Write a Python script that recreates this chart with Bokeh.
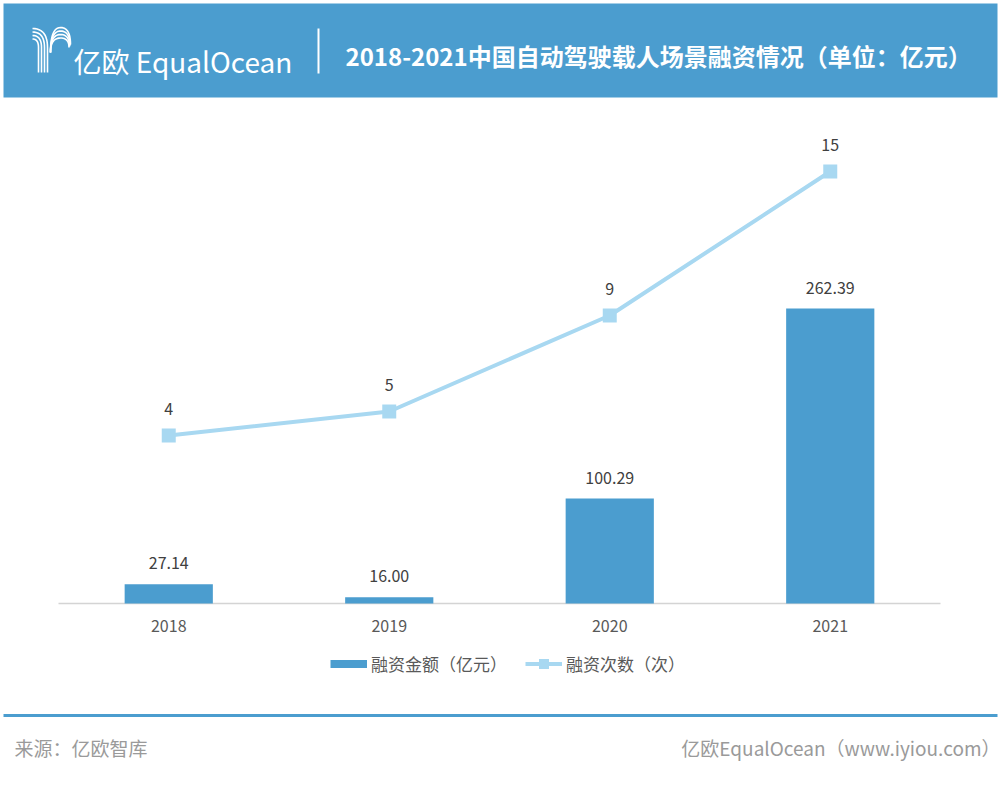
from bokeh.plotting import figure
from bokeh.models import Range1d, ColumnDataSource, Legend, LegendItem
from bokeh.embed import file_html
from bokeh.resources import INLINE

# ---- data ----
years = ["2018", "2019", "2020", "2021"]
amount = [27.14, 16.00, 100.29, 262.39]
amount_labels = ["27.14", "16.00", "100.29", "262.39"]
count = [4, 5, 9, 15]
count_labels = ["4", "5", "9", "15"]

title_text = "2018-2021中国自动驾驶载人场景融资情况（单位：亿元）"
logo_text = "亿欧 EqualOcean"
source_text = "来源：亿欧智库"
site_text = "亿欧EqualOcean（www.iyiou.com）"
legend_bar = "融资金额（亿元）"
legend_line = "融资次数（次）"

FONT = "Noto Sans CJK SC"
BLUE = "#4B9DCF"
LIGHT = "#A8D8F1"
TXT = "#404040"
GREY = "#595959"

W, H = 1000, 788
CL, CR, BASE = 58, 940, 603          # plot area edges / baseline (page px)
n = len(years)
unit = (CR - CL) / n                  # px per category slot

# amount axis: value at baseline and pixels per unit
v0 = 10.71
ppu = 1.1721
# count axis: value at baseline and pixels per unit
cnt0 = -3.0
cnt_ppu = 24.0

# category slot index axis (slot i centred at CL + unit*(i+0.5))
p = figure(width=W, height=H,
           x_range=Range1d(-CL / unit - 0.5, (W - CL) / unit - 0.5),
           y_range=Range1d(H, 0),
           output_backend="svg", toolbar_location=None, min_border=0,
           x_axis_location=None, y_axis_location=None)
p.extra_x_ranges = {"px": Range1d(0, W)}
p.extra_y_ranges = {
    "amt": Range1d(v0 - (H - BASE) / ppu, v0 + BASE / ppu),
    "cnt": Range1d(cnt0 - (H - BASE) / cnt_ppu, cnt0 + BASE / cnt_ppu),
}
p.grid.visible = False
p.outline_line_color = None
p.background_fill_color = "white"
p.border_fill_color = "white"

src = ColumnDataSource(dict(x=list(range(n)), year=years, amount=amount, alab=amount_labels,
                            cnt=count, clab=count_labels, nan=[float("nan")] * n))

def ptext(x, y, text, size, color, align="left", bold=False):
    p.text(x=[x], y=[y], text=[text], x_range_name="px", text_font={"value": FONT},
           text_font_size=size, text_color=color, text_align=align, text_baseline="middle",
           text_font_style="bold" if bold else "normal")

# ---- header ----
p.quad(left=[3], right=[997], top=[3], bottom=[97], x_range_name="px",
       fill_color=BLUE, line_color=None)
p.segment(x0=[318], y0=[28], x1=[318], y1=[73], x_range_name="px",
          line_color="white", line_width=2)

def quad_bez(p0, p1, p2, k=12):
    pts = []
    for i in range(k + 1):
        t = i / k
        pts.append(((1 - t) ** 2 * p0[0] + 2 * (1 - t) * t * p1[0] + t * t * p2[0],
                    (1 - t) ** 2 * p0[1] + 2 * (1 - t) * t * p1[1] + t * t * p2[1]))
    return pts

strokes = []
for j in range(4):
    stem_x = 47 - 3 * j
    top_y = 28 + 3.5 * j
    strokes.append(quad_bez((32, top_y), (stem_x, top_y), (stem_x, 47)) + [(stem_x, 72)])
for j in range(4):
    top_y = 27 + 3.5 * j
    end_x = 70 - 0.5 * j
    strokes.append(quad_bez((50, 52), (50, top_y), (60, top_y))
                   + quad_bez((60, top_y), (end_x, top_y), (end_x, 44 + j))[1:])
p.multi_line(xs=[[a for a, b in s] for s in strokes], ys=[[b for a, b in s] for s in strokes],
             x_range_name="px", line_color="white", line_width=1.6)

ptext(73, 60, logo_text, "28px", "white")
ptext(345, 55, title_text, "24px", "white", bold=True)

# ---- chart ----
p.segment(x0=[CL], y0=[BASE], x1=[CR], y1=[BASE], x_range_name="px",
          line_color="#d4d4d4", line_width=1.5)

p.vbar(x="x", top="amount", bottom=v0, width=0.4, source=src, y_range_name="amt",
       fill_color=BLUE, line_color=None)
p.text(x="x", y="amount", text="alab", source=src, y_range_name="amt", y_offset=-21,
       text_font={"value": FONT}, text_font_size="16px", text_color=TXT,
       text_align="center", text_baseline="middle")

ln = p.line(x="x", y="cnt", source=src, y_range_name="cnt", line_color=LIGHT, line_width=4)
mk = p.scatter(x="x", y="cnt", source=src, y_range_name="cnt", marker="square", size=14,
               fill_color=LIGHT, line_color=None)
p.text(x="x", y="cnt", text="clab", source=src, y_range_name="cnt", y_offset=-27,
       text_font={"value": FONT}, text_font_size="16px", text_color=TXT,
       text_align="center", text_baseline="middle")

# category labels under the baseline
p.text(x="x", y=BASE + 22, text="year", source=src, text_font={"value": FONT},
       text_font_size="16px", text_color=GREY, text_align="center", text_baseline="middle")

# swatch for the bar legend entry (draws nothing in the plot: NaN values)
dummy = p.line(x="x", y="nan", source=src, y_range_name="amt", line_color=BLUE, line_width=8)

legend = Legend(items=[LegendItem(label=legend_bar, renderers=[dummy]),
                       LegendItem(label=legend_line, renderers=[ln, mk])],
                orientation="horizontal", location=(330, H - 675.5),
                glyph_width=37, glyph_height=25, label_standoff=4, spacing=18,
                padding=5, margin=0, border_line_color=None, background_fill_alpha=0,
                label_text_font=FONT, label_text_font_size="17px",
                label_text_color=GREY)
p.add_layout(legend, "center")

# ---- footer ----
p.quad(left=[3], right=[997], top=[713.5], bottom=[716.5], x_range_name="px",
       fill_color=BLUE, line_color=None)
ptext(14, 747, source_text, "19px", "#9a9a9a")
ptext(1000, 747, site_text, "19px", "#9a9a9a", align="right")

open("out.html", "w").write(file_html(p, INLINE))
